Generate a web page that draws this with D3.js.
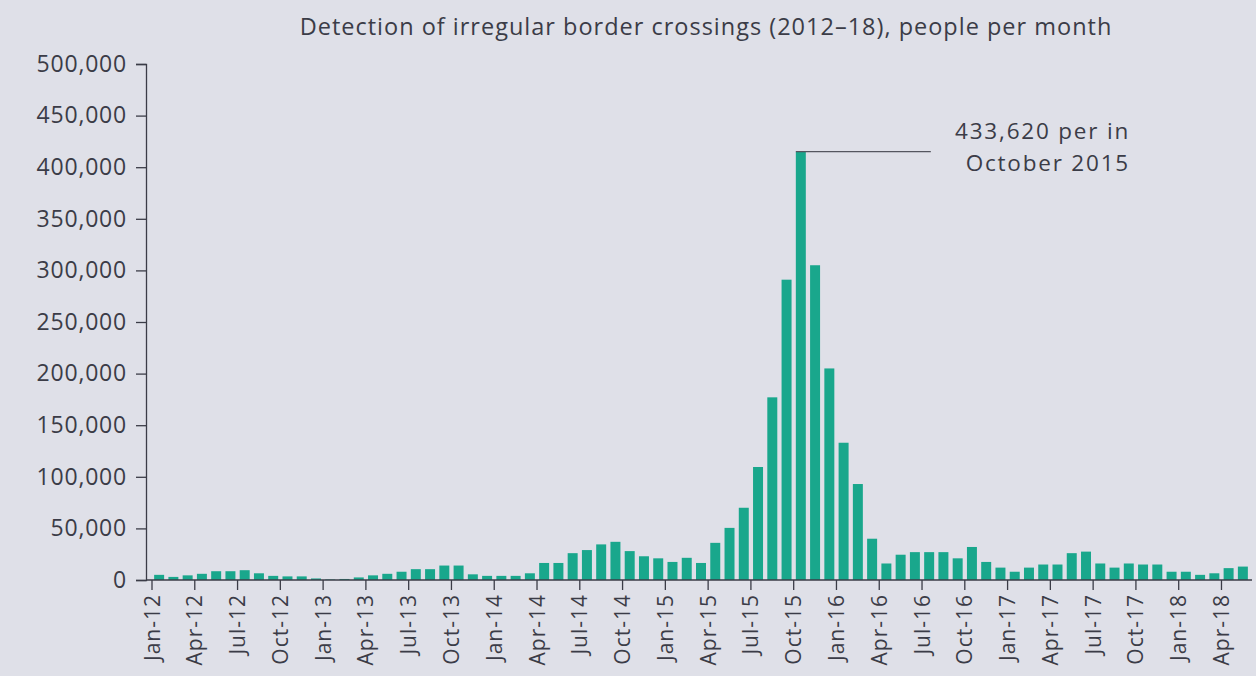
<!DOCTYPE html>
<html>
<head>
<meta charset="utf-8">
<script src="https://cdn.jsdelivr.net/npm/d3@7"></script>
<style>
  html, body { margin: 0; padding: 0; background: #dfe0e8; }
  svg { display: block; font-family: "Open Sans", "Noto Sans", sans-serif; }
</style>
</head>
<body>
<svg id="chart" width="1256" height="676"></svg>
<script>
const months = [
  'Jan-12','Feb-12','Mar-12','Apr-12','May-12','Jun-12','Jul-12','Aug-12','Sep-12','Oct-12','Nov-12','Dec-12',
  'Jan-13','Feb-13','Mar-13','Apr-13','May-13','Jun-13','Jul-13','Aug-13','Sep-13','Oct-13','Nov-13','Dec-13',
  'Jan-14','Feb-14','Mar-14','Apr-14','May-14','Jun-14','Jul-14','Aug-14','Sep-14','Oct-14','Nov-14','Dec-14',
  'Jan-15','Feb-15','Mar-15','Apr-15','May-15','Jun-15','Jul-15','Aug-15','Sep-15','Oct-15','Nov-15','Dec-15',
  'Jan-16','Feb-16','Mar-16','Apr-16','May-16','Jun-16','Jul-16','Aug-16','Sep-16','Oct-16','Nov-16','Dec-16',
  'Jan-17','Feb-17','Mar-17','Apr-17','May-17','Jun-17','Jul-17','Aug-17','Sep-17','Oct-17','Nov-17','Dec-17',
  'Jan-18','Feb-18','Mar-18','Apr-18','May-18'
];

const crossings = [
  5000, 3000, 4500, 6000, 8500, 8500, 9500, 6500, 4000, 3500, 3500, 1500,
  500, 1000, 2500, 4500, 6000, 8000, 10500, 10500, 14000, 14000, 5500, 4000,
  4000, 4000, 6500, 16500, 16500, 26000, 29000, 34500, 37000, 28000, 23000, 21000,
  17500, 21500, 16500, 36000, 50500, 70000, 109500, 177000, 291000, 415000, 305000, 205000,
  133000, 93000, 40000, 16000, 24500, 27000, 27000, 27000, 21000, 32000, 17500, 12000,
  8000, 12000, 15000, 15000, 26000, 27500, 16000, 12000, 16000, 15000, 15000, 8000,
  8000, 5000, 6500, 11500, 13000
];

const tickLabels = [
  'Jan-12','Apr-12','Jul-12','Oct-12','Jan-13','Apr-13','Jul-13','Oct-13',
  'Jan-14','Apr-14','Jul-14','Oct-14','Jan-15','Apr-15','Jul-15','Oct-15',
  'Jan-16','Apr-16','Jul-16','Oct-16','Jan-17','Apr-17','Jul-17','Oct-17',
  'Jan-18','Apr-18'
];

const yTicks = [0, 50000, 100000, 150000, 200000, 250000, 300000, 350000, 400000, 450000, 500000];

const peakMonth = 'Oct-15';
const noteLines = ['433,620 per in', 'October 2015'];
const title = 'Detection of irregular border crossings (2012–18), people per month';

const ink = '#3b3c47';
const barColor = '#19a78c';
const font = '"Open Sans", "Noto Sans", sans-serif';

const svg = d3.select('#chart');

const x = d3.scaleBand()
  .domain(months)
  .range([152, 1250])
  .paddingInner(0.3)
  .paddingOuter(0.15);

const y = d3.scaleLinear()
  .domain([0, 500000])
  .range([580, 64]);

svg.append('text')
  .attr('x', 706)
  .attr('y', 35)
  .attr('text-anchor', 'middle')
  .attr('fill', ink)
  .style('font-size', '23.5px')
  .style('letter-spacing', '1px')
  .text(title);

// bars
svg.append('g')
  .selectAll('rect')
  .data(months)
  .join('rect')
  .attr('x', d => x(d))
  .attr('width', x.bandwidth())
  .attr('y', (d, i) => y(crossings[i]))
  .attr('height', (d, i) => y(0) - y(crossings[i]))
  .attr('fill', barColor);

// y axis
const yAxis = svg.append('g')
  .attr('transform', 'translate(146,0)')
  .call(d3.axisLeft(y).tickValues(yTicks).tickFormat(d3.format(',')).tickSize(10).tickPadding(9));
yAxis.select('.domain').attr('stroke', ink).attr('stroke-width', 1.3);
yAxis.selectAll('.tick line').attr('stroke', ink).attr('stroke-width', 1.3);
yAxis.selectAll('.tick text')
  .attr('fill', ink)
  .style('font-size', '23px')
  .style('letter-spacing', '0.8px')
  .style('font-family', font);

// x axis: ticks on the left edge of each quarter's band
const xAxis = svg.append('g')
  .attr('transform', 'translate(' + (-x.step() / 2) + ',' + y(0) + ')')
  .call(d3.axisBottom(x).tickValues(tickLabels).tickSize(10).tickSizeOuter(0));
xAxis.select('.domain').remove();
xAxis.selectAll('.tick line').attr('stroke', ink).attr('stroke-width', 1.3);
xAxis.selectAll('.tick text')
  .attr('fill', ink)
  .style('font-size', '21px')
  .style('letter-spacing', '1px')
  .style('font-family', font)
  .attr('text-anchor', 'end')
  .attr('transform', 'rotate(-90)')
  .attr('x', -14)
  .attr('y', 0)
  .attr('dy', '0.36em');

svg.append('line')
  .attr('x1', 146)
  .attr('x2', 1252)
  .attr('y1', y(0))
  .attr('y2', y(0))
  .attr('stroke', ink)
  .attr('stroke-width', 1.3);

// annotation for the peak month
const peakValue = crossings[months.indexOf(peakMonth)];
svg.append('line')
  .attr('x1', x(peakMonth))
  .attr('x2', x(peakMonth) + 135)
  .attr('y1', y(peakValue))
  .attr('y2', y(peakValue))
  .attr('stroke', '#55565f')
  .attr('stroke-width', 1.2);

svg.append('g')
  .selectAll('text')
  .data(noteLines)
  .join('text')
  .attr('x', 1130)
  .attr('y', (d, i) => 139 + i * 32)
  .attr('text-anchor', 'end')
  .attr('fill', ink)
  .style('font-size', '22.5px')
  .style('letter-spacing', '1.8px')
  .text(d => d);
</script>
</body>
</html>
